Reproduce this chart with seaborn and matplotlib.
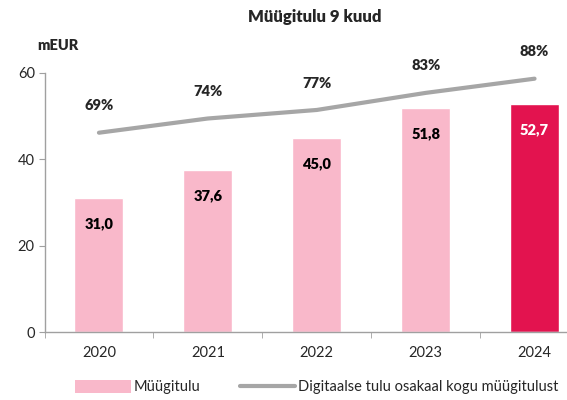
import numpy as np
import pandas as pd
import matplotlib
matplotlib.use("Agg")
import matplotlib.pyplot as plt
import seaborn as sns
from matplotlib.patches import Patch
from matplotlib.lines import Line2D

sns.set_style("white")
plt.rcParams['font.family'] = ['Lato', 'DejaVu Sans']

# andmed
aastad = ["2020", "2021", "2022", "2023", "2024"]
myygitulu = [31.0, 37.6, 45.0, 51.8, 52.7]
digi_osakaal = [69, 74, 77, 83, 88]
silt_myyk = ["31,0", "37,6", "45,0", "51,8", "52,7"]

roosa = "#F9B8CA"
punane = "#E3134F"
hall = "#A6A6A6"
varvid = [roosa, roosa, roosa, roosa, punane]

df = pd.DataFrame({"aasta": aastad, "myyk": myygitulu, "osakaal": digi_osakaal})

fig = plt.figure(figsize=(5.67, 4.0), dpi=100)
ax = fig.add_axes([44.5 / 567, 68 / 400, 544.5 / 567, 259.3 / 400])

sns.barplot(data=df, x="aasta", y="myyk", hue="aasta", palette=varvid,
            width=0.45, legend=False, saturation=1, ax=ax)
ax.set_xlim(-0.5, 4.5)
ax.set_ylim(0, 60)
ax.set_yticks([0, 20, 40, 60])
ax.set_xlabel("")
ax.set_ylabel("")

# väärtuste sildid tulpade sees
for i, (v, s) in enumerate(zip(myygitulu, silt_myyk)):
    ax.annotate(s, (i, v), xytext=(0, -18.7), textcoords="offset points",
                ha="center", va="center", fontsize=10.5, fontweight="heavy",
                color="white" if i == 4 else "black")

# teljed
for k in ["top", "right"]:
    ax.spines[k].set_visible(False)
for k in ["left", "bottom"]:
    ax.spines[k].set_color("#A0A0A0")
    ax.spines[k].set_linewidth(1)
ax.tick_params(axis="y", length=4, color="#A0A0A0", labelsize=10.5, pad=3, left=True)
ax.tick_params(axis="x", which="major", length=0, labelsize=10.5, pad=10)
ax.set_xticks(np.arange(-0.5, 5.0, 1), minor=True)
ax.tick_params(axis="x", which="minor", length=4, color="#A0A0A0", bottom=True)

# digitaalse tulu osakaal teisel teljel
ax2 = ax.twinx()
sns.lineplot(x=np.arange(len(aastad)), y=digi_osakaal, color=hall, linewidth=3,
             solid_capstyle="round", ax=ax2)
ax2.set_ylim(-1.06, 90.1)
ax2.axis("off")
for i, p in enumerate(digi_osakaal):
    ax2.annotate(f"{p}%", (i, p), xytext=(0, 19.4), textcoords="offset points",
                 ha="center", va="center", fontsize=10.5, fontweight="heavy",
                 annotation_clip=False)

fig.text(315 / 567, 1 - 17 / 400, "Müügitulu 9 kuud", ha="center", va="center",
         fontsize=12, fontweight="heavy")
fig.text(37 / 567, 1 - 45 / 400, "mEUR", ha="left", va="center",
         fontsize=10.5, fontweight="heavy")

kasitsed = [Patch(facecolor=roosa, edgecolor="none"),
            Line2D([0], [0], color=hall, linewidth=3)]
fig.legend(kasitsed, ["Müügitulu", "Digitaalse tulu osakaal kogu müügitulust"],
           loc="center", bbox_to_anchor=(317 / 567, 1 - 387 / 400), ncol=2,
           frameon=False, fontsize=10.5, handlelength=3.8, handleheight=1.0,
           handletextpad=0.2, columnspacing=2.7)

fig.savefig("out.png", dpi=100)
